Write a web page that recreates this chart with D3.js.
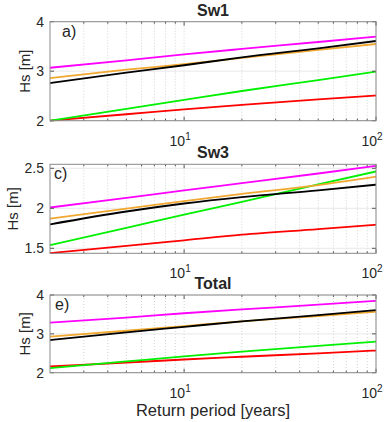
<!DOCTYPE html>
<html>
<head>
<meta charset="utf-8">
<script src="https://cdn.jsdelivr.net/npm/d3@7"></script>
<style>
  body { margin: 0; background: #fff; }
  text { font-family: "Liberation Sans", Arial, sans-serif; fill: #262626; }
</style>
</head>
<body>
<div id="chart"></div>
<script>
// return periods where the curves were read
const returnPeriods = [2, 5, 10, 20, 50, 100];

// series order: red, green, orange, black, magenta
const seriesColors = ["#ff0000", "#00f000", "#f0a830", "#000000", "#ff00ff"];

const sw1Series = [
    [2.00, 2.13, 2.23, 2.32, 2.43, 2.51],
    [2.00, 2.24, 2.42, 2.60, 2.82, 2.99],
    [2.86, 3.03, 3.14, 3.27, 3.43, 3.55],
    [2.76, 2.97, 3.12, 3.28, 3.46, 3.61],
    [3.07, 3.22, 3.34, 3.45, 3.59, 3.70]
];
const sw3Series = [
    [1.44, 1.53, 1.60, 1.67, 1.74, 1.795],
    [1.54, 1.755, 1.92, 2.08, 2.30, 2.46],
    [1.87, 1.995, 2.09, 2.18, 2.29, 2.395],
    [1.80, 1.96, 2.06, 2.14, 2.225, 2.295],
    [2.01, 2.13, 2.225, 2.315, 2.435, 2.53]
];
const totalSeries = [
    [2.16, 2.26, 2.34, 2.41, 2.50, 2.57],
    [2.12, 2.29, 2.42, 2.54, 2.69, 2.80],
    [2.93, 3.08, 3.20, 3.32, 3.46, 3.57],
    [2.84, 3.04, 3.18, 3.32, 3.48, 3.61],
    [3.29, 3.42, 3.53, 3.63, 3.75, 3.85]
];

const panelTitles = ["Sw1", "Sw3", "Total"];
const panelLetters = ["a)", "c)", "e)"];
const yDomains = [[2, 4], [1.4375, 2.55], [2, 4]];
const yTickValues = [[2, 3, 4], [1.5, 2, 2.5], [2, 3, 4]];
const xMajorTicks = [10, 100];
const xMinorTicks = [3, 4, 5, 6, 7, 8, 9, 20, 30, 40, 50, 60, 70, 80, 90];

const panelData = [sw1Series, sw3Series, totalSeries];

const width = 391, height = 422;
const left = 50, right = 376;
const panelBox = [[21.7, 120.7], [164.3, 253.3], [295, 372.7]];
const yLabelX = [25, 13, 25];
const letterX = [62, 54, 55];

const svg = d3.select("#chart").append("svg")
    .attr("width", width)
    .attr("height", height);

const x = d3.scaleLog().domain([2, 100]).range([left, right]);

panelData.forEach((series, p) => {
    const top = panelBox[p][0], bottom = panelBox[p][1];
    const y = d3.scaleLinear().domain(yDomains[p]).range([bottom, top]);
    const g = svg.append("g");

    // grid
    g.selectAll("line.xgrid").data(xMinorTicks.concat(xMajorTicks)).enter().append("line")
        .attr("x1", d => x(d)).attr("x2", d => x(d))
        .attr("y1", top).attr("y2", bottom)
        .attr("stroke", "#c8c8c8").attr("stroke-width", 0.8)
        .attr("stroke-dasharray", "1,2");
    g.selectAll("line.ygrid").data(yTickValues[p]).enter().append("line")
        .attr("x1", left).attr("x2", right)
        .attr("y1", d => y(d)).attr("y2", d => y(d))
        .attr("stroke", "#e3e3e3").attr("stroke-width", 0.8);

    // curves
    const line = d3.line()
        .x((d, i) => x(returnPeriods[i]))
        .y(d => y(d))
        .curve(d3.curveMonotoneX);

    const clipId = "clip" + p;
    svg.append("clipPath").attr("id", clipId).append("rect")
        .attr("x", left).attr("y", top - 1)
        .attr("width", right - left).attr("height", bottom - top + 2);

    g.append("g").attr("clip-path", "url(#" + clipId + ")")
        .selectAll("path").data(series).enter().append("path")
        .attr("d", line)
        .attr("fill", "none")
        .attr("stroke", (d, i) => seriesColors[i])
        .attr("stroke-width", 1.8);

    // ticks inside the box
    [bottom, top].forEach((yy, k) => {
        const dir = k === 0 ? -1 : 1;
        g.selectAll(null).data(xMajorTicks).enter().append("line")
            .attr("x1", d => x(d)).attr("x2", d => x(d))
            .attr("y1", yy).attr("y2", yy + dir * 4)
            .attr("stroke", "#555");
        g.selectAll(null).data(xMinorTicks).enter().append("line")
            .attr("x1", d => x(d)).attr("x2", d => x(d))
            .attr("y1", yy).attr("y2", yy + dir * 2)
            .attr("stroke", "#555");
    });
    [left, right].forEach((xx, k) => {
        const dir = k === 0 ? 1 : -1;
        g.selectAll(null).data(yTickValues[p]).enter().append("line")
            .attr("x1", xx).attr("x2", xx + dir * 4)
            .attr("y1", d => y(d)).attr("y2", d => y(d))
            .attr("stroke", "#555");
    });

    // frame
    g.append("rect")
        .attr("x", left).attr("y", top)
        .attr("width", right - left).attr("height", bottom - top)
        .attr("fill", "none").attr("stroke", "#8a8a8a").attr("stroke-width", 1);

    // y tick labels
    g.selectAll("text.ytick").data(yTickValues[p]).enter().append("text")
        .attr("x", left - 6).attr("y", d => y(d))
        .attr("dy", "0.35em")
        .attr("text-anchor", "end")
        .style("font-size", "14px")
        .text(d => d);

    // x tick labels 10^n
    xMajorTicks.forEach(t => {
        const txt = g.append("text")
            .attr("x", x(t) - 4).attr("y", bottom + 25)
            .attr("text-anchor", "middle")
            .style("font-size", "14px");
        txt.append("tspan").text("10");
        txt.append("tspan").attr("dy", -6).style("font-size", "10px")
            .text(Math.round(Math.log10(t)));
    });

    // y label
    g.append("text")
        .attr("transform", "translate(" + yLabelX[p] + "," + (top + bottom) / 2 + ") rotate(-90)")
        .attr("dy", "0.35em")
        .attr("text-anchor", "middle")
        .style("font-size", "15px")
        .text("Hs [m]");

    // title
    g.append("text")
        .attr("x", (left + right) / 2).attr("y", top - 6)
        .attr("text-anchor", "middle")
        .style("font-size", "16px").style("font-weight", "bold")
        .text(panelTitles[p]);

    // panel letter
    g.append("text")
        .attr("x", letterX[p]).attr("y", top + 15)
        .style("font-size", "16px")
        .text(panelLetters[p]);
});

svg.append("text")
    .attr("x", (left + right) / 2).attr("y", 416)
    .attr("text-anchor", "middle")
    .style("font-size", "16.5px")
    .text("Return period [years]");
</script>
</body>
</html>
